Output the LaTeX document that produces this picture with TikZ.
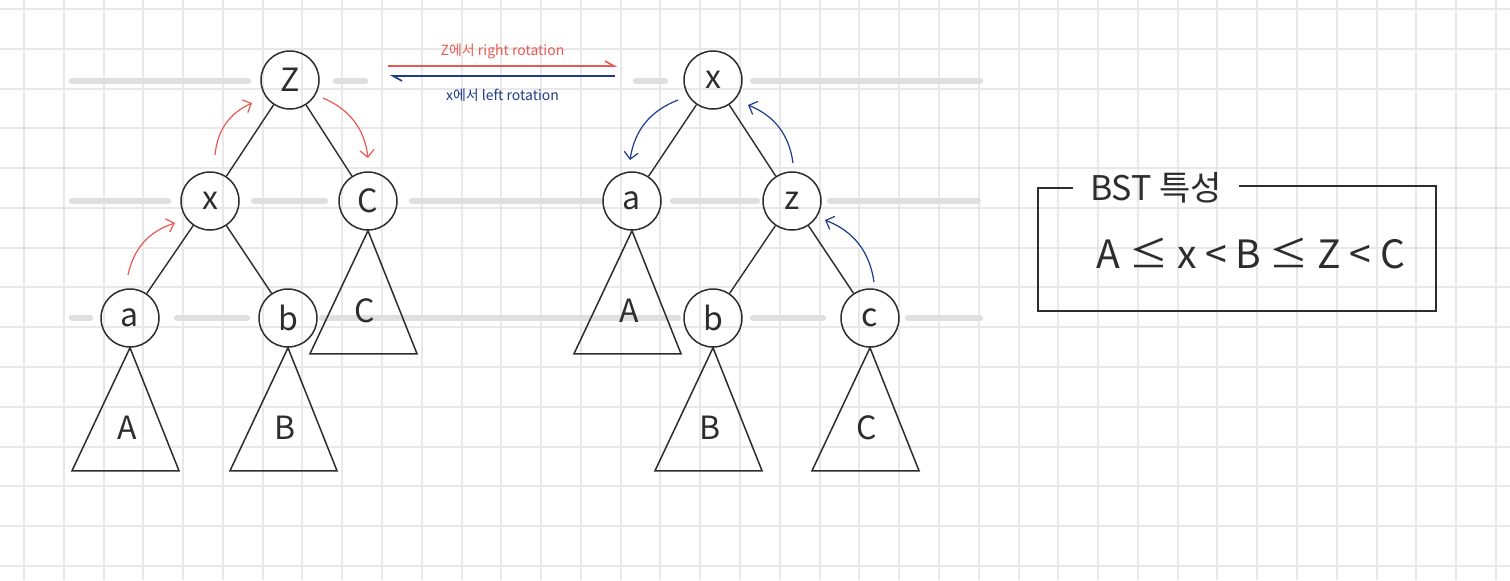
\documentclass[tikz,border=0pt]{standalone}
\usepackage{fontspec}
\setmainfont{Noto Sans CJK KR}
\usetikzlibrary{arrows.meta,calc}
\definecolor{ink}{RGB}{45,45,45}
\definecolor{gridgray}{RGB}{232,232,232}
\definecolor{levelgray}{RGB}{223,223,223}
\definecolor{rotred}{RGB}{234,90,84}
\definecolor{rotblue}{RGB}{30,60,140}
\newcommand{\subtree}[3]{% parent name label
  \draw[ink,line width=0.75pt] (#1.south) -- ++(-58,123) -- ++(107,0) -- cycle;
  \node[font=\fontsize{16}{16}\selectfont,text=ink] (#2) at ($(#1.south)+(-3,80)$){#3};
}
\tikzset{
  key/.style={circle,draw=ink,line width=0.75pt,minimum size=29pt,inner sep=0pt,
    font=\fontsize{16}{16}\selectfont,text=ink},
  link/.style={ink,line width=0.7pt},
  turn/.style={#1,line width=0.6pt,-{Straight Barb[length=3.5pt,width=7pt]}}
}

\begin{document}
\begin{tikzpicture}[x=0.5pt,y=-0.5pt]
  \fill[white] (0,0) rectangle (1510,580);
  \useasboundingbox (0,0) rectangle (1510,580);
  % paper grid
  \foreach \g in {0,...,37}{\draw[gridgray,line width=1pt] ({24+39.78*\g},0) -- ({24+39.78*\g},580);}
  \foreach \g in {0,...,14}{\draw[gridgray,line width=1pt] (0,{9+39.78*\g}) -- (1510,{9+39.78*\g});}
  % level bars
  \foreach \xa/\xb/\yy in {72/248/81,336/365/81,636/665/81,753/980/81,
    72/168/201,254/325/201,412/600/201,673/757/201,830/978/201,
    72/90/318,177/247/318,322/678/318,753/823/318,908/980/318}
    \draw[levelgray,line width=3.2pt,line cap=round] (\xa,\yy) -- (\xb,\yy);

  % before: right rotation at z
  \node[key] (lz) at (290,80){Z};
  \node[key] (lx) at (210,201){x};
  \node[key] (lc) at (368,201){C};
  \node[key] (la) at (130,318){a};
  \node[key] (lb) at (288,318){b};
  \draw[link] (lz) -- (lx); \draw[link] (lz) -- (lc);
  \draw[link] (lx) -- (la); \draw[link] (lx) -- (lb);
  \subtree{la}{lA}{A}\subtree{lb}{lB}{B}\subtree{lc}{lC}{C}
  \draw[turn=rotred] ($(la)+(-2,-43)$) to[bend left=30] ($(lx)+(-35,22)$);
  \draw[turn=rotred] ($(lx)+(5,-46)$) to[bend left=30] ($(lz)+(-38,23)$);
  \draw[turn=rotred] ($(lz)+(33,18)$) to[bend left=30] ($(lc)+(0,-43)$);

  % after: left rotation at x
  \node[key] (rx) at (713,80){x};
  \node[key] (ra) at (632,201){a};
  \node[key] (rz) at (792,201){z};
  \node[key] (rb) at (713,318){b};
  \node[key] (rc) at (870,318){c};
  \draw[link] (rx) -- (ra); \draw[link] (rx) -- (rz);
  \draw[link] (rz) -- (rb); \draw[link] (rz) -- (rc);
  \subtree{ra}{rA}{A}\subtree{rb}{rB}{B}\subtree{rc}{rC}{C}
  \draw[turn=rotblue] ($(rx)+(-35,20)$) to[bend right=30] ($(ra)+(-2,-41)$);
  \draw[turn=rotblue] ($(rz)+(1,-38)$) to[bend right=30] ($(rx)+(35,25)$);
  \draw[turn=rotblue] ($(rc)+(4,-36)$) to[bend right=30] ($(rz)+(33,19)$);

  % rotation arrows
  \coordinate (rw) at (388,66); \coordinate (re) at (617,66);
  \coordinate (bw) at (390,76); \coordinate (be) at (615,76);
  \draw[rotred,line width=0.8pt,-{Straight Barb[left,length=4.5pt,width=5pt]}] (rw) -- (re)
    node[midway,above=0pt,font=\fontsize{7}{7}\selectfont] (rtext){Z에서 right rotation};
  \draw[rotblue,line width=0.8pt,-{Straight Barb[left,length=4.5pt,width=5pt]}] (be) -- (bw)
    node[midway,below=2.5pt,font=\fontsize{7}{7}\selectfont] (btext){x에서 left rotation};

  % BST box
  \draw[ink,line width=0.8pt] (1073,188) -- (1038,188) -- (1038,311) -- (1436,311) -- (1436,186) -- (1239,186);
  \node[font=\fontsize{17}{17}\selectfont,text=ink] (bsttitle) at (1156,188){BST 특성};
  \node[font=\fontsize{19.5}{19.5}\selectfont,text=ink] (bstrule) at (1251,254){A ≤ x < B ≤ Z < C};
\end{tikzpicture}
\end{document}
